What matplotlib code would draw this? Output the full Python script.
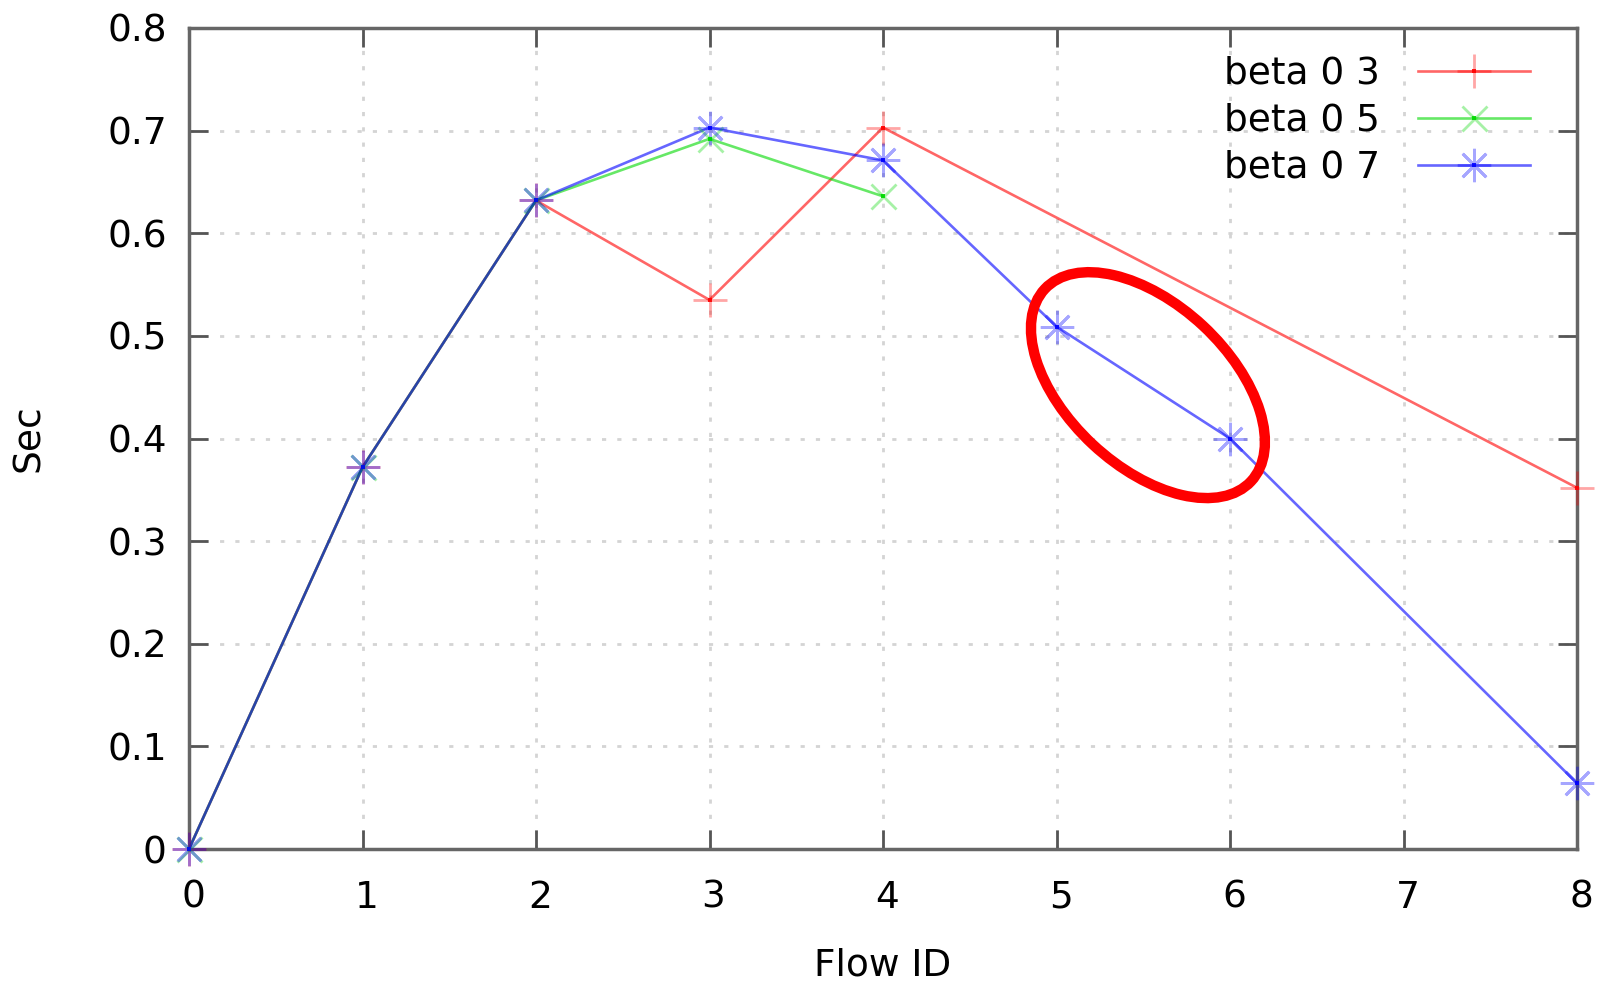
import matplotlib
matplotlib.use("Agg")
import matplotlib.pyplot as plt
import matplotlib.transforms as mtransforms
from matplotlib.patches import Ellipse
from matplotlib.legend_handler import HandlerTuple

# ---- data ----
x_b03 = [0, 1, 2, 3, 4, 8]
y_b03 = [0.0, 0.372, 0.632, 0.535, 0.703, 0.352]
x_b05 = [0, 1, 2, 3, 4]
y_b05 = [0.0, 0.372, 0.632, 0.692, 0.636]
x_b07 = [0, 1, 2, 3, 4, 5, 6, 8]
y_b07 = [0.0, 0.372, 0.632, 0.703, 0.671, 0.509, 0.400, 0.064]
labels = ["beta 0 3", "beta 0 5", "beta 0 7"]
xticks = [0, 1, 2, 3, 4, 5, 6, 7, 8]
yticks = [0.0, 0.1, 0.2, 0.3, 0.4, 0.5, 0.6, 0.7, 0.8]
# annotation ellipse centre (data units)
ell_center = (5.527, 0.452)

plt.rcParams['font.family'] = ['DejaVu Sans']
FS = 27

fig = plt.figure(figsize=(16.04, 9.86), dpi=100)
ax = fig.add_axes([189/1604, 1-849/986, (1577-189)/1604, (849-28)/986])

series = [
    (x_b03, y_b03, (1, 0, 0), '+', 24),
    (x_b05, y_b05, (0, 0.85, 0), 'x', 18),
    (x_b07, y_b07, (0, 0, 1), (8, 2, 0), 24),
]
handles = []
for (xs, ys, c, mk, ms) in series:
    ln, = ax.plot(xs, ys, color=c, lw=1.9, alpha=0.6, zorder=3)
    mm, = ax.plot(xs, ys, ls='none', marker=mk, ms=ms, mew=2.0,
                  color=c, alpha=0.35, zorder=4, clip_on=False)
    dot, = ax.plot(xs, ys, ls='none', marker='s', ms=3.5, mew=0,
                   color=c, alpha=0.9, zorder=5, clip_on=False)
    handles.append((ln, mm, dot))

ax.set_xlim(0, 8)
ax.set_ylim(0, 0.8)
ax.set_xticks(xticks)
ax.set_yticks(yticks)
ax.set_xticklabels([str(v) for v in xticks])
ax.set_yticklabels(['0' if v == 0 else f'{v:.1f}' for v in yticks])

ax.tick_params(axis='both', direction='in', length=14, width=2.0,
               color='#555555', labelsize=FS, top=True, right=True,
               labelcolor='black')
ax.tick_params(axis='x', pad=22)
ax.tick_params(axis='y', pad=16)
for lab in ax.get_xticklabels():
    lab.set_transform(lab.get_transform() +
                      mtransforms.ScaledTranslation(4/100, 0, fig.dpi_scale_trans))
for s in ax.spines.values():
    s.set_color('#666666')
    s.set_linewidth(2.5)

ax.grid(True, color='#d4d4d4', linestyle=(0, (1.5, 4)), linewidth=2.0)
ax.set_axisbelow(True)

ax.set_xlabel('Flow ID', fontsize=FS)
ax.set_ylabel('Sec', fontsize=FS)
ax.xaxis.label.set_va('center')
ax.yaxis.label.set_va('center')
ax.xaxis.set_label_coords(0.5, (849-966)/821)
ax.yaxis.set_label_coords((29-189)/1388, 0.5)

leg = ax.legend(handles, labels, loc='upper right', frameon=False,
                fontsize=FS, markerfirst=False, handlelength=3.0,
                handletextpad=1.0, labelspacing=0.29, borderpad=0,
                borderaxespad=0, bbox_to_anchor=(1341/1388, 0.966),
                handler_map={tuple: HandlerTuple(ndivide=1)})

# red annotation ellipse
trans = fig.dpi_scale_trans + mtransforms.ScaledTranslation(
    ell_center[0], ell_center[1], ax.transData)
ell = Ellipse((0, 0), width=2.82, height=1.62, angle=-43,
              transform=trans, fill=False, edgecolor='#ff0000',
              linewidth=7.5, zorder=10, clip_on=False)
ax.add_artist(ell)

fig.savefig('out.png', dpi=100)
